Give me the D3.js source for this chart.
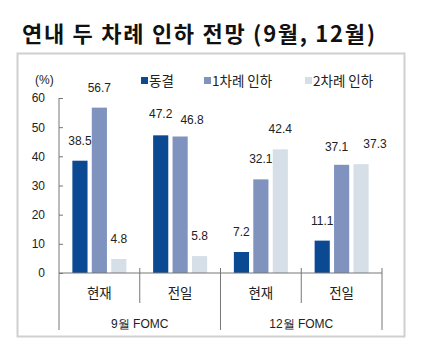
<!DOCTYPE html>
<html><head><meta charset="utf-8">
<script src="https://cdn.jsdelivr.net/npm/d3@7"></script>
<style>body{margin:0;background:#fff}svg{display:block}</style>
</head><body>
<svg id="c" width="441" height="348"></svg>
<script>
const title = "연내 두 차례 인하 전망 (9월, 12월)";
const categories = ["현재", "전일", "현재", "전일"];
const groups = ["9월 FOMC", "12월 FOMC"];
const seriesNames = ["동결", "1차례 인하", "2차례 인하"];
const freeze = [38.5, 47.2, 7.2, 11.1];
const cut1 = [56.7, 46.8, 32.1, 37.1];
const cut2 = [4.8, 5.8, 42.4, 37.3];
const yTicks = [0, 10, 20, 30, 40, 50, 60];
const colors = ["#0B4A93", "#7F93BE", "#D6DEE7"];

const svg = d3.select("#c");
const sans = "'Liberation Sans', Arial, sans-serif";
const kr = "'Noto Sans CJK KR', sans-serif";

svg.append("text").attr("x", 22).attr("y", 42).text(title)
  .attr("font-family", kr).attr("font-weight", "bold").attr("font-size", 22)
  .attr("textLength", 353).attr("lengthAdjust", "spacing").attr("fill", "#111");

svg.append("rect").attr("x", 17.5).attr("y", 53.5).attr("width", 387).attr("height", 283)
  .attr("fill", "none").attr("stroke", "#d0d0d0").attr("stroke-width", 2);

const x0 = 59, x1 = 382;
const y = d3.scaleLinear().domain([0, 60]).range([273, 98]);
const xb = d3.scaleBand().domain(d3.range(4)).range([x0, x1]);
const series = [freeze, cut1, cut2];
const xs = d3.scaleBand().domain(d3.range(3)).range([0, 54]).paddingInner(0.22);
const bw = xs.bandwidth();
// manual label nudges (series-category) to avoid overlaps, as in the original
const nudge = {"0-1": [0, -1], "1-1": [12, 3], "1-3": [-5, 2], "2-3": [14, 0]};

// bars
series.forEach((vals, si) => {
  const g = svg.append("g");
  vals.forEach((v, ci) => {
    const cx = xb(ci) + xb.bandwidth() / 2 - 27 + xs(si);
    const [dx, dy] = nudge[si + "-" + ci] || [0, 0];
    g.append("rect").attr("x", cx).attr("y", y(v)).attr("width", bw)
      .attr("height", y(0) - y(v)).attr("fill", colors[si]);
    g.append("text").attr("x", cx + bw / 2 + dx).attr("y", y(v) - 16 + dy)
      .attr("text-anchor", "middle").attr("font-family", sans).attr("font-size", 12)
      .attr("fill", "#222").text(v.toFixed(1));
  });
});

// y axis
const yAxis = d3.axisLeft(y).tickValues(yTicks).tickSize(-4).tickPadding(14);
const ya = svg.append("g").attr("transform", `translate(${x0},0)`).call(yAxis);
ya.select(".domain").remove();
ya.selectAll(".tick line").attr("stroke", "#777");
ya.selectAll(".tick text").attr("font-family", sans).attr("font-size", 12).attr("fill", "#222");
svg.append("line").attr("x1", x0).attr("x2", x0).attr("y1", 98).attr("y2", 330).attr("stroke", "#777");

// x axis
svg.append("line").attr("x1", x0).attr("x2", x1).attr("y1", y(0)).attr("y2", y(0)).attr("stroke", "#777");
[1, 3].forEach(i => svg.append("line").attr("x1", xb(i)).attr("x2", xb(i))
  .attr("y1", 268).attr("y2", 303).attr("stroke", "#777"));
svg.append("line").attr("x1", xb(2)).attr("x2", xb(2)).attr("y1", 268).attr("y2", 330).attr("stroke", "#777");
svg.append("line").attr("x1", x1).attr("x2", x1).attr("y1", 268).attr("y2", 330).attr("stroke", "#777");

categories.forEach((c, i) => svg.append("text").attr("x", xb(i) + xb.bandwidth() / 2).attr("y", 298)
  .attr("text-anchor", "middle").attr("font-family", kr).attr("font-size", 13.5).attr("fill", "#222").text(c));
groups.forEach((gname, i) => svg.append("text").attr("x", (xb(i * 2) + xb(i * 2 + 1) + xb.bandwidth()) / 2).attr("y", 328)
  .attr("text-anchor", "middle").attr("font-family", sans).attr("font-size", 12).attr("fill", "#222").text(gname));

// (%)
svg.append("text").attr("x", 35).attr("y", 84).attr("font-family", sans).attr("font-size", 12)
  .attr("fill", "#222").text("(%)");

// legend
const legX = [141, 204, 305];
seriesNames.forEach((n, i) => {
  svg.append("rect").attr("x", legX[i]).attr("y", 77).attr("width", 7).attr("height", 7).attr("fill", colors[i]);
  svg.append("text").attr("x", legX[i] + 8).attr("y", 86).attr("font-family", kr).attr("font-size", 13.5)
    .attr("fill", "#222").text(n);
});
</script>
</body></html>
